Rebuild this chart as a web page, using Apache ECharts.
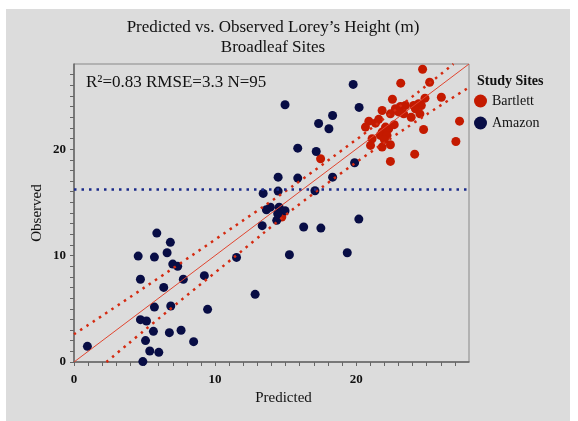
<!DOCTYPE html>
<html>
<head>
<meta charset="utf-8">
<script src="https://cdn.jsdelivr.net/npm/echarts@6/dist/echarts.min.js"></script>
<style>
  html, body { margin: 0; padding: 0; background: #fff; }
  #chart { position: absolute; left: 6px; top: 9px; width: 564px; height: 412px; }
</style>
</head>
<body>
<div id="chart"></div>
<script>
// values: [predicted, observed]
const bartlett = [
  [24.71, 27.51], [25.21, 26.29], [23.16, 26.2], [26.04, 24.88], [24.88, 24.79],
  [22.57, 24.69], [27.33, 22.63], [27.07, 20.72], [21.84, 23.63], [22.43, 23.32],
  [22.78, 23.79], [23.14, 24.01], [23.49, 24.1], [24.08, 24.1], [24.43, 24.26],
  [24.62, 24.1], [23.37, 23.32], [24.2, 23.79], [24.52, 23.32], [20.9, 22.63],
  [20.66, 22.07], [21.37, 22.44], [22.08, 22.07], [22.31, 21.92], [21.84, 21.6],
  [21.72, 21.29], [22.19, 21.29], [21.13, 20.98], [21.02, 20.35], [21.84, 20.19],
  [22.43, 20.41], [24.78, 21.85], [24.15, 19.53], [22.43, 18.85], [14.73, 13.62],
  [17.48, 19.1], [21.6, 22.8], [22.0, 20.9], [23.9, 23.0], [22.7, 22.3], [23.0, 23.5]
];
const amazon = [
  [5.87, 12.11], [6.83, 11.24], [4.55, 9.95], [5.70, 9.86], [6.60, 10.27],
  [7.0, 9.2], [7.35, 8.99], [4.71, 7.77], [7.75, 7.77], [6.36, 7.01],
  [9.24, 8.11], [9.47, 4.95], [5.70, 5.16], [6.86, 5.26], [4.71, 3.98],
  [5.14, 3.85], [5.63, 2.88], [6.76, 2.76], [7.59, 2.98], [5.07, 2.01],
  [8.48, 1.91], [5.37, 1.03], [6.01, 0.91], [4.88, 0.04], [0.95, 1.47],
  [14.47, 17.37], [15.86, 17.28], [18.33, 17.37], [13.41, 15.84], [14.47, 16.06],
  [17.08, 16.09], [13.92, 14.55], [13.64, 14.31], [14.54, 14.55], [14.96, 14.21],
  [14.44, 13.93], [14.37, 13.31], [13.34, 12.81], [16.28, 12.68], [17.5, 12.58],
  [15.27, 10.08], [11.52, 9.83], [19.37, 10.27], [12.84, 6.36],
  [19.79, 26.08], [14.96, 24.17], [20.21, 23.92], [18.33, 23.16], [17.34, 22.41],
  [18.07, 21.92], [15.86, 20.09], [17.17, 19.78], [19.89, 18.72], [20.19, 13.43]
];
const oneToOne = [[0, 0], [28, 28]];
const upperBand = [[0, 2.6], [10, 11.5], [19, 19.9], [26.9, 28]];
const lowerBand = [[2.3, 0], [10, 8.4], [19, 17.8], [28, 25.8]];
const meanObserved = 16.2;
const axisMax = 28;
const tickLabels = [0, 10, 20];

const serif = 'Liberation Serif';
const red = '#c41a00';
const navy = '#080d45';

const axisCommon = {
  type: 'value',
  min: 0,
  max: axisMax,
  interval: 1,
  splitLine: { show: false },
  axisLine: { show: true, lineStyle: { color: '#666', width: 1.5 } },
  axisTick: { show: true, length: 4, lineStyle: { color: '#666' } },
  axisLabel: {
    color: '#111',
    fontFamily: serif,
    fontSize: 13,
    fontWeight: 'bold',
    showMaxLabel: false,
    formatter: (v) => (tickLabels.indexOf(v) >= 0 ? String(v) : '')
  },
  nameLocation: 'middle',
  nameTextStyle: { color: '#111', fontFamily: serif, fontSize: 15 }
};

const option = {
  backgroundColor: '#dcdcdc',
  animation: false,
  title: [
    {
      text: 'Predicted vs. Observed Lorey\u2019s Height (m)',
      left: 267, top: 10, padding: 0, textAlign: 'center',
      textStyle: { fontFamily: serif, fontSize: 17, fontWeight: 'normal', color: '#111' }
    },
    {
      text: 'Broadleaf Sites',
      left: 267, top: 30, padding: 0, textAlign: 'center',
      textStyle: { fontFamily: serif, fontSize: 17, fontWeight: 'normal', color: '#111' }
    },
    {
      text: 'R\u00b2=0.83 RMSE=3.3 N=95',
      left: 80, top: 65, padding: 0,
      textStyle: { fontFamily: serif, fontSize: 17, fontWeight: 'normal', color: '#111' }
    },
    {
      text: 'Study Sites',
      left: 471, top: 65, padding: 0,
      textStyle: { fontFamily: serif, fontSize: 14, fontWeight: 'bold', color: '#111' }
    }
  ],
  legend: {
    data: ['Bartlett', 'Amazon'],
    orient: 'vertical',
    left: 468,
    top: 85,
    icon: 'circle',
    itemWidth: 13,
    itemHeight: 13,
    itemGap: 8,
    padding: 0,
    textStyle: { fontFamily: serif, fontSize: 14, color: '#111' }
  },
  grid: {
    left: 68, top: 55, width: 395, height: 298,
    show: true, borderColor: '#888', borderWidth: 1, backgroundColor: 'transparent'
  },
  xAxis: Object.assign({}, axisCommon, {
    name: 'Predicted',
    nameGap: 17,
    axisLabel: Object.assign({}, axisCommon.axisLabel, { margin: 11 }),
    nameTextStyle: Object.assign({}, axisCommon.nameTextStyle, { padding: [0, 0, 0, 24] })
  }),
  yAxis: Object.assign({}, axisCommon, {
    name: 'Observed',
    nameGap: 29,
    nameMoveOverlap: false
  }),
  series: [
    {
      name: 'Bartlett', type: 'scatter', data: bartlett,
      symbolSize: 9, itemStyle: { color: red, opacity: 1 }, z: 3
    },
    {
      name: 'Amazon', type: 'scatter', data: amazon,
      symbolSize: 9, itemStyle: { color: navy, opacity: 1 }, z: 4
    },
    {
      name: '1:1', type: 'line', data: oneToOne, symbol: 'none', silent: true,
      lineStyle: { color: '#e0452f', width: 1 }, z: 5
    },
    {
      name: 'upper', type: 'line', data: upperBand, symbol: 'none', smooth: true, silent: true,
      lineStyle: { color: '#d42a10', width: 2.5, type: [2.5, 5] }, z: 5
    },
    {
      name: 'lower', type: 'line', data: lowerBand, symbol: 'none', smooth: true, silent: true,
      lineStyle: { color: '#d42a10', width: 2.5, type: [2.5, 5] }, z: 5
    },
    {
      name: 'mean', type: 'line', data: [[0, meanObserved], [axisMax, meanObserved]],
      symbol: 'none', silent: true,
      lineStyle: { color: '#1a2a8a', width: 2.5, type: [2.5, 5] }, z: 5
    }
  ]
};

const myChart = echarts.init(document.getElementById('chart'));
myChart.setOption(option);
</script>
</body>
</html>
